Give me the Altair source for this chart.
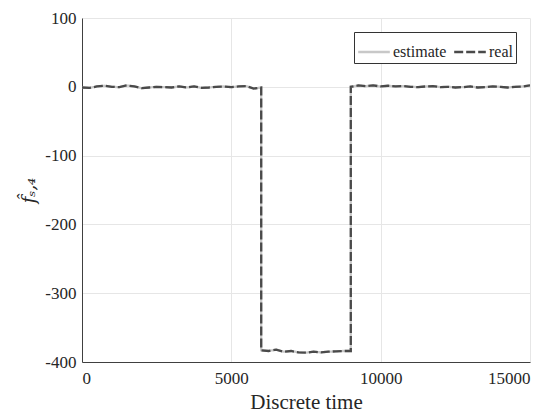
import altair as alt
import pandas as pd

# Discrete time samples (step points duplicated at the fault edges)
x_vals = [0, 250, 500, 750, 1000, 1250, 1500, 1750, 2000, 2250, 2500, 2750, 3000,
          3250, 3500, 3750, 4000, 4250, 4500, 4750, 5000, 5250, 5500, 5750, 6000,
          6000, 6250, 6500, 6750, 7000, 7250, 7500, 7750, 8000, 8250, 8500, 8750, 9000,
          9000, 9250, 9500, 9750, 10000, 10250, 10500, 10750, 11000, 11250, 11500, 11750,
          12000, 12250, 12500, 12750, 13000, 13250, 13500, 13750, 14000, 14250, 14500,
          14750, 15000]

estimate_vals = [-1, -1.5, 0.5, 1.5, 0, -0.5, 2, 0.5, -2, -1, 0, -0.5, -1,
                 0.5, -1, 0.5, -1.5, -1, 0, 0.5, -0.5, 0.5, 1, -2.5, -1,
                 -383, -384, -382, -385, -384, -386, -386.5, -385, -386, -385, -384.5, -384, -384,
                 0, 2, 1, 2, 0.5, 1.5, 0.5, 1, 0, -0.5, 0.5, 1,
                 -0.5, 0, -1, -0.5, 0.5, -1, -0.5, 0.5, 0, -1, 0,
                 0.5, 2]

real_vals = list(estimate_vals)

series_names = ["estimate", "real"]
series_colors = ["#c8c8c8", "#4a4a4a"]
series_dash = [[1, 0], [9, 3]]

x_ticks = [0, 5000, 10000, 15000]
y_ticks = [-400, -300, -200, -100, 0, 100]

rows = []
for name, vals in zip(series_names, [estimate_vals, real_vals]):
    for i, (xv, yv) in enumerate(zip(x_vals, vals)):
        rows.append({"t": xv, "f": yv, "series": name, "order": i})
df = pd.DataFrame(rows)

FONT = "Liberation Serif"

chart = alt.Chart(df).mark_line(strokeWidth=2.3, clip=True).encode(
    x=alt.X("t:Q", title="Discrete time",
            scale=alt.Scale(domain=[0, 15000], nice=False),
            axis=alt.Axis(values=x_ticks, format="d", tickSize=0,
                          labelFont=FONT, labelFontSize=17, titleFont=FONT, titleFontSize=21,
                          labelPadding=8, titlePadding=5)),
    y=alt.Y("f:Q", title="f̂ₛ,₄",
            scale=alt.Scale(domain=[-400, 100], nice=False),
            axis=alt.Axis(values=y_ticks, labelExpr="datum.value", tickSize=0,
                          labelFont=FONT, labelFontSize=17, titleFont="DejaVu Serif",
                          titleFontSize=18, labelPadding=6, titlePadding=6,
                          titleFontStyle="italic")),
    color=alt.Color("series:N", scale=alt.Scale(domain=series_names, range=series_colors),
                    legend=alt.Legend(title=None, orient="top-right", direction="horizontal",
                                      offset=14, symbolType="stroke", symbolStrokeWidth=2.3,
                                      symbolSize=1000, strokeColor="#333333", fillColor="white",
                                      padding=3, labelFont=FONT, labelFontSize=16,
                                      labelColor="#262626", columnPadding=2, labelOffset=2)),
    strokeDash=alt.StrokeDash("series:N", scale=alt.Scale(domain=series_names, range=series_dash),
                              legend=None),
    order="order:Q",
).properties(
    width=448, height=344,
    autosize=alt.AutoSizeParams(type="none"),
    padding={"left": 74, "top": 10, "right": 16, "bottom": 55},
).configure_view(stroke=None).configure_axis(
    labelColor="#262626", titleColor="#262626", titleFontWeight="normal",
    domainColor="#404040", domainWidth=1, gridColor="#e6e6e6", gridWidth=1,
)

chart.save("out.html", embed_options={"renderer": "svg", "actions": False})
